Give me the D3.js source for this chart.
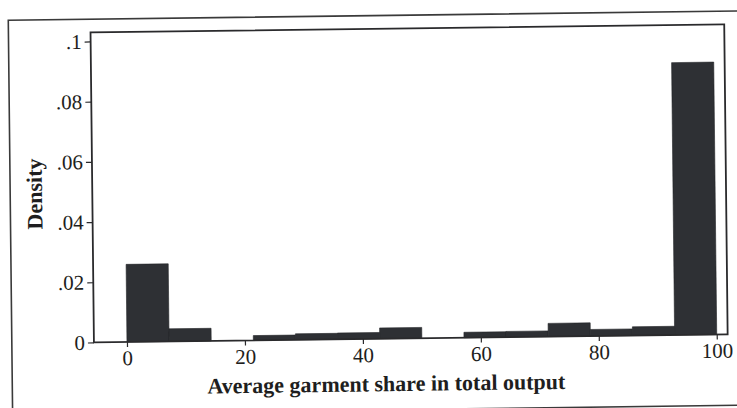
<!DOCTYPE html>
<html>
<head>
<meta charset="utf-8">
<script src="https://cdn.jsdelivr.net/npm/d3@7"></script>
<style>
  html, body { margin: 0; padding: 0; background: #ffffff; }
  svg { display: block; }
</style>
</head>
<body>
<svg id="chart" width="737" height="408"></svg>
<script>
// ---- data ----
const binStart = 0;
const binEnd = 100;
const binCount = 14;
const densities = [0.0258, 0.0042, 0.0, 0.0016, 0.0020, 0.0021, 0.0036,
                   0.0, 0.0018, 0.0019, 0.0044, 0.0022, 0.0029, 0.0905];
const xTicks = [0, 20, 40, 60, 80, 100];
const yTicks = [0, 0.02, 0.04, 0.06, 0.08, 0.1];
const yTickLabels = ["0", ".02", ".04", ".06", ".08", ".1"];
const xTitle = "Average garment share in total output";
const yTitle = "Density";

// build bins from the arrays
const binW = (binEnd - binStart) / binCount;
const bins = densities.map((d, i) => ({ x0: binStart + i * binW, x1: binStart + (i + 1) * binW, d }));

const svg = d3.select("#chart");
svg.append("rect").attr("width", 737).attr("height", 408).attr("fill", "#ffffff");

// scanned page is slightly tilted
const a = 0.0128, b = 0.011, cx = 400, cy = 190;
const g = svg.append("g")
  .attr("transform", `matrix(1,${-a},${b},1,${-b * cy},${a * cx})`);

const serif = "'Liberation Serif', 'Times New Roman', serif";
const ink = "#2a2a2c";

// outer frame
g.append("rect")
  .attr("x", 10.2).attr("y", 15.3)
  .attr("width", 745 - 10.2).attr("height", 409.6 - 15.3)
  .attr("fill", "none").attr("stroke", "#3a3a3a").attr("stroke-width", 1.6);

const pL = 92.3, pR = 726, pT = 28.5, pB = 338.5;
const x = d3.scaleLinear().domain([-5.6, 101.85]).range([pL, pR]);
const y = d3.scaleLinear().domain([0, 0.103]).range([pB, pT]);

// bars
g.append("g").selectAll("rect").data(bins).join("rect")
  .attr("x", d => x(d.x0))
  .attr("width", d => x(d.x1) - x(d.x0))
  .attr("y", d => y(d.d))
  .attr("height", d => y(0) - y(d.d))
  .attr("fill", "#2e3034")
  .attr("stroke", "#222326")
  .attr("stroke-width", 0.6);

// plot frame
g.append("rect")
  .attr("x", pL).attr("y", pT)
  .attr("width", pR - pL).attr("height", pB - pT)
  .attr("fill", "none").attr("stroke", ink).attr("stroke-width", 1.8);

// y axis
const yAxis = g.append("g").attr("transform", `translate(${pL},0)`)
  .call(d3.axisLeft(y).tickValues(yTicks)
    .tickFormat((d, i) => yTickLabels[i]).tickSize(6).tickPadding(3));
yAxis.select(".domain").remove();
yAxis.selectAll("line").attr("stroke", ink).attr("stroke-width", 1.2);
yAxis.selectAll("text").attr("font-family", serif).attr("font-size", 21).attr("fill", "#1e1e20");

// x axis
const xAxis = g.append("g").attr("transform", `translate(0,${pB})`)
  .call(d3.axisBottom(x).tickValues(xTicks).tickSize(5).tickPadding(3.4));
xAxis.select(".domain").remove();
xAxis.selectAll("line").attr("stroke", ink).attr("stroke-width", 1.2);
xAxis.selectAll("text").attr("font-family", serif).attr("font-size", 21).attr("fill", "#1e1e20");

// titles
g.append("text")
  .attr("x", 384.3).attr("y", 391)
  .attr("text-anchor", "middle")
  .attr("font-family", serif).attr("font-weight", "bold").attr("font-size", 22)
  .attr("fill", "#1e1e20")
  .text(xTitle);

g.append("text")
  .attr("transform", "translate(42,189.4) rotate(-90)")
  .attr("text-anchor", "middle")
  .attr("font-family", serif).attr("font-weight", "bold").attr("font-size", 22)
  .attr("fill", "#1e1e20")
  .text(yTitle);
</script>
</body>
</html>
